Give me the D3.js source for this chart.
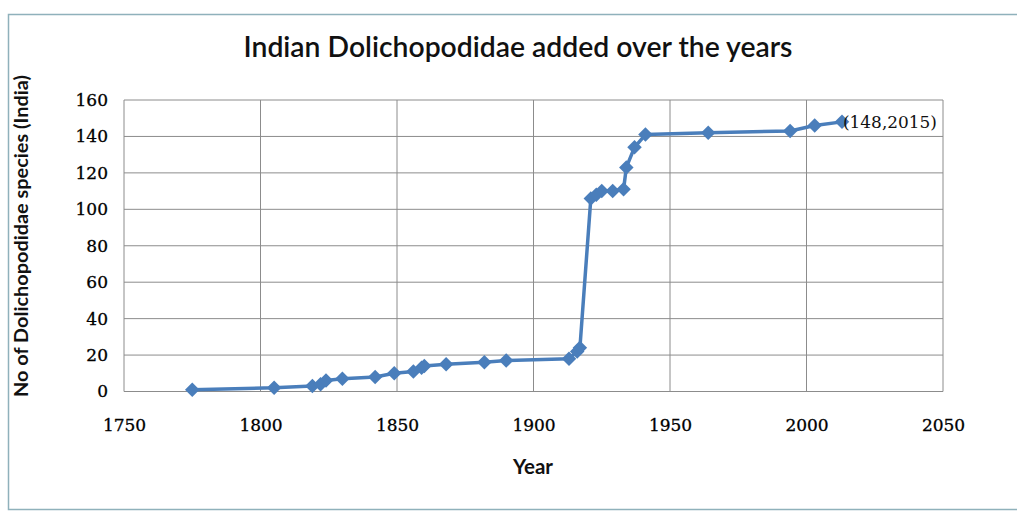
<!DOCTYPE html>
<html><head><meta charset="utf-8">
<script src="https://cdn.jsdelivr.net/npm/d3@7/dist/d3.min.js"></script>
<style>body{margin:0;background:#fff}svg{display:block}</style>
</head><body>
<svg id="c" width="1017" height="512"></svg>
<script>
const years  = [1775,1805,1819,1822,1824,1830,1842,1849,1856,1859,1860,1868,1882,1890,1913,1916,1917,1921,1923,1925,1929,1933,1934,1937,1941,1964,1994,2003,2013];
const values = [1,2,3,4,6,7,8,10,11,13,14,15,16,17,18,22,24,106,108,110,110,111,123,134,141,142,143,146,148];
const xTicks = [1750,1800,1850,1900,1950,2000,2050];
const yTicks = [0,20,40,60,80,100,120,140,160];
const titleText = "Indian Dolichopodidae added over the years";
const yTitle = "No of Dolichopodidae species (India)";
const xTitle = "Year";
const pointLabel = "(148,2015)";

const svg = d3.select("#c");
const m = {l:124, r:943, t:100, b:391.5};
const x = d3.scaleLinear().domain([1750,2050]).range([m.l,m.r]);
const y = d3.scaleLinear().domain([0,160]).range([m.b,m.t]);

// frame
svg.append("rect").attr("x",8.5).attr("y",14.5).attr("width",1020).attr("height",495)
  .attr("fill","#fff").attr("stroke","#8fb1bb").attr("stroke-width",1.5);

// gridlines
const g = svg.append("g");
g.selectAll("line.v").data(xTicks).join("line")
  .attr("x1",d=>x(d)).attr("x2",d=>x(d)).attr("y1",m.t).attr("y2",m.b)
  .attr("stroke","#8c8c8c").attr("stroke-width",1);
g.selectAll("line.h").data(yTicks).join("line")
  .attr("y1",d=>y(d)).attr("y2",d=>y(d)).attr("x1",m.l).attr("x2",m.r)
  .attr("stroke","#8c8c8c").attr("stroke-width",1);

// axes labels via d3 axes
const serif = "'DejaVu Serif', serif";
const xa = svg.append("g").attr("transform",`translate(0,${m.b})`)
  .call(d3.axisBottom(x).tickValues(xTicks).tickFormat(d3.format("d")).tickSize(0).tickPadding(27));
xa.select(".domain").remove();
xa.selectAll("text").attr("font-family",serif).attr("font-size",17).attr("fill","#000")
  .attr("stroke","#000").attr("stroke-width",0.3);
const ya = svg.append("g").attr("transform",`translate(${m.l},0)`)
  .call(d3.axisLeft(y).tickValues(yTicks).tickSize(0).tickPadding(16));
ya.select(".domain").remove();
ya.selectAll("text").attr("font-family",serif).attr("font-size",17).attr("fill","#000")
  .attr("stroke","#000").attr("stroke-width",0.3);

// line
const pts = years.map((d,i)=>[d,values[i]]);
svg.append("path").datum(pts)
  .attr("d",d3.line().x(d=>x(d[0])).y(d=>y(d[1])))
  .attr("fill","none").attr("stroke","#4a7ebb").attr("stroke-width",3.5).attr("stroke-linejoin","round");
svg.append("g").selectAll("path").data(pts).join("path")
  .attr("d",d3.symbol().type(d3.symbolSquare).size(105))
  .attr("transform",d=>`translate(${x(d[0])},${y(d[1])}) rotate(45)`)
  .attr("fill","#4a7ebb");

// point label
const last = pts[pts.length-1];
const pl = svg.append("text").attr("x",x(last[0])+1).attr("y",y(last[1])+6)
  .attr("font-family",serif).attr("font-size",16).attr("fill","#111").text(pointLabel);

// titles
const sans = "Lato, 'Open Sans', sans-serif";
function fit(t, w){ const l=t.node().getComputedTextLength(); const fs=+t.attr("font-size"); t.attr("font-size", fs*w/l); }
fit(pl,94);
const tt = svg.append("text").attr("x",518).attr("y",57).attr("text-anchor","middle")
  .attr("font-family",sans).attr("font-size",24).attr("font-weight",600).attr("fill","#111").text(titleText);
fit(tt,549);
const yt = svg.append("text").attr("transform","translate(28,236) rotate(-90)").attr("text-anchor","middle")
  .attr("font-family",sans).attr("font-size",16).attr("font-weight",700).attr("fill","#111").text(yTitle);
fit(yt,322);
const xt = svg.append("text").attr("x",533).attr("y",474).attr("text-anchor","middle")
  .attr("font-family",sans).attr("font-size",17).attr("font-weight",700).attr("fill","#111").text(xTitle);
fit(xt,40);
</script>
</body></html>
